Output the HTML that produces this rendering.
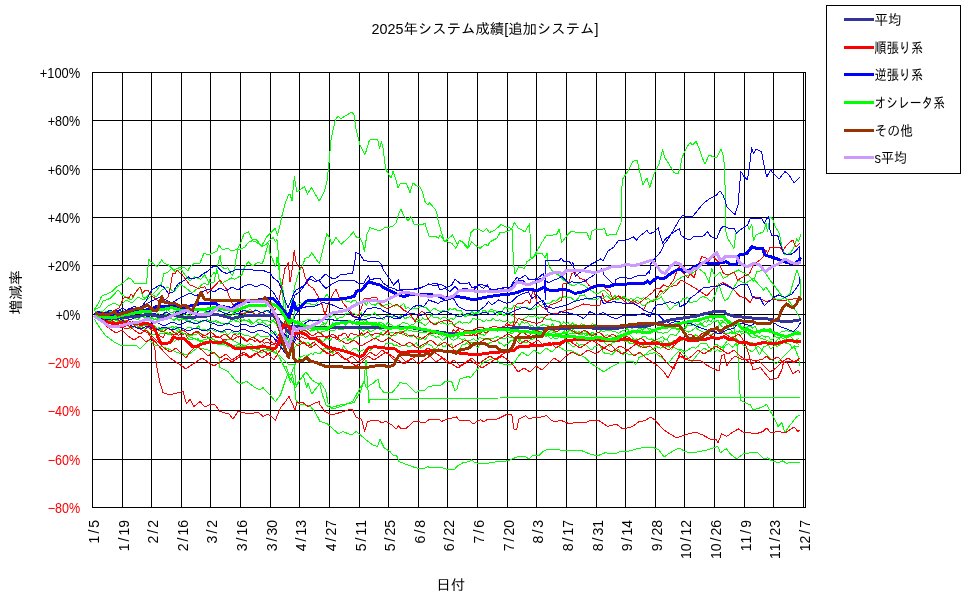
<!DOCTYPE html><html><head><meta charset="utf-8"><title>2025年システム成績[追加システム]</title>
<style>html,body{margin:0;padding:0;background:#fff}body{width:970px;height:599px;overflow:hidden;position:relative;font-family:"Liberation Sans","IPAGothic","Noto Sans CJK JP",sans-serif;color:#000}svg{position:absolute;left:0;top:0;display:block}text{font-family:"Liberation Sans","IPAGothic","Noto Sans CJK JP",sans-serif}</style></head><body>
<svg width="970" height="599" viewBox="0 0 970 599">
<rect x="0" y="0" width="970" height="599" fill="#fff"/>
<g fill="#000" shape-rendering="crispEdges">
<rect x="92" y="72" width="714" height="1"/>
<rect x="92" y="120" width="714" height="1"/>
<rect x="92" y="169" width="714" height="1"/>
<rect x="92" y="217" width="714" height="1"/>
<rect x="92" y="265" width="714" height="1"/>
<rect x="92" y="314" width="714" height="1"/>
<rect x="92" y="362" width="714" height="1"/>
<rect x="92" y="410" width="714" height="1"/>
<rect x="92" y="459" width="714" height="1"/>
<rect x="92" y="507" width="714" height="1"/>
<rect x="92" y="72" width="1" height="436"/>
<rect x="122" y="72" width="1" height="436"/>
<rect x="151" y="72" width="1" height="436"/>
<rect x="181" y="72" width="1" height="436"/>
<rect x="210" y="72" width="1" height="436"/>
<rect x="240" y="72" width="1" height="436"/>
<rect x="270" y="72" width="1" height="436"/>
<rect x="299" y="72" width="1" height="436"/>
<rect x="329" y="72" width="1" height="436"/>
<rect x="359" y="72" width="1" height="436"/>
<rect x="388" y="72" width="1" height="436"/>
<rect x="418" y="72" width="1" height="436"/>
<rect x="447" y="72" width="1" height="436"/>
<rect x="477" y="72" width="1" height="436"/>
<rect x="507" y="72" width="1" height="436"/>
<rect x="536" y="72" width="1" height="436"/>
<rect x="566" y="72" width="1" height="436"/>
<rect x="596" y="72" width="1" height="436"/>
<rect x="625" y="72" width="1" height="436"/>
<rect x="655" y="72" width="1" height="436"/>
<rect x="684" y="72" width="1" height="436"/>
<rect x="714" y="72" width="1" height="436"/>
<rect x="744" y="72" width="1" height="436"/>
<rect x="773" y="72" width="1" height="436"/>
<rect x="803" y="72" width="1" height="436"/>
<rect x="805" y="72" width="1" height="436"/>
</g>
<g fill="none" stroke-width="1" shape-rendering="crispEdges" stroke-linejoin="round">
<polyline stroke="#00ff00" points="95.0,312.2 97.2,313.3 99.4,314.8 101.6,316.8 103.8,312.9 106.0,311.8 108.2,310.8 110.4,311.2 112.6,311.6 114.8,310.1 117.0,311.6 119.2,309.9 121.4,311.9 123.6,310.8 125.8,312.0 128.0,312.9 130.2,312.5 132.4,311.5 134.6,310.6 136.8,309.6 139.0,313.2 141.2,313.7 143.4,315.9 145.6,314.8 147.8,314.1 150.0,312.2 152.2,311.9 154.4,309.6 156.6,312.5 158.8,314.0 161.0,315.7 163.2,316.7 165.4,313.3 167.6,309.2 169.8,312.1 172.0,312.9 174.2,311.5 176.4,310.8 178.6,313.2 180.8,316.1 183.0,315.6 185.2,313.6 187.4,315.0 189.6,316.2 191.8,313.2 194.0,314.7 196.2,312.9 198.4,313.5 200.6,314.5 202.8,314.3 205.0,311.7 207.2,313.2 209.4,311.1 211.6,313.3 213.8,310.3 216.0,310.9 218.2,311.2 220.4,310.9 222.6,312.2 224.8,312.9 227.0,315.8 229.2,315.1 231.4,315.8 233.6,312.6 235.8,314.2 238.0,314.8 240.2,315.8 242.4,316.5 244.6,313.1 246.8,310.5 249.0,310.0 251.2,309.9 253.4,313.2 255.6,309.7 257.8,311.0 260.0,313.3 262.2,312.7 264.4,310.5 266.6,310.1 268.8,312.2 271.0,313.7 273.2,313.2 275.4,314.3 277.6,319.5 279.8,321.1 282.0,327.1 284.2,327.2 286.4,333.2 288.6,332.6 290.8,335.1 293.0,329.6 295.2,321.9 297.4,320.9 299.6,321.8 301.8,322.2 304.0,321.5 306.2,320.5 308.4,319.6 310.6,319.5 312.8,321.1 315.0,320.6 317.2,320.6 319.4,319.6 321.6,321.0 323.8,323.3 326.0,324.2 328.2,319.3 330.4,317.0 332.6,315.5 334.8,315.6 337.0,319.4 339.2,317.7 341.4,317.4 343.6,316.8 345.8,313.7 348.0,313.0 350.2,313.4 352.4,313.3 354.6,314.0 356.8,314.2 359.0,314.6 361.2,312.7 363.4,315.9 365.6,316.9 367.8,315.6 370.0,315.3 372.2,314.5 374.4,312.5 376.6,315.6 378.8,315.5 381.0,318.0 383.2,320.1 385.4,316.7 387.6,315.3 389.8,317.1 392.0,316.5 394.2,316.0 396.4,316.2 398.6,317.7 400.8,315.7 403.0,316.7 405.2,318.9 407.4,317.3 409.6,316.8 411.8,317.7 414.0,319.0 416.2,319.7 418.4,319.2 420.6,320.8 422.8,317.9 425.0,320.0 427.2,319.3 429.4,317.5 431.6,314.7 433.8,317.8 436.0,317.5 438.2,317.7 440.4,319.4 442.6,317.1 444.8,317.7 447.0,318.2 449.2,319.6 451.4,318.2 453.6,319.8 455.8,316.8 458.0,315.9 460.2,314.4 462.4,313.0 464.6,316.5 466.8,316.1 469.0,315.3 471.2,315.2 473.4,315.0 475.6,312.2 477.8,312.3 480.0,313.6 482.2,311.9 484.4,312.7 486.6,312.8 488.8,312.0 491.0,311.0 493.2,311.7 495.4,313.5 497.6,315.1 499.8,312.6 502.0,314.0 504.2,315.6 506.4,312.7 508.6,311.8 510.8,314.4 513.0,316.2 515.2,317.0 517.4,319.1 519.6,318.9 521.8,320.0 524.0,318.4 526.2,317.7 528.4,315.9 530.6,316.6 532.8,316.3 535.0,315.8 537.2,317.6 539.4,318.3 541.6,317.4 543.8,318.1 546.0,318.9 548.2,319.9 550.4,318.9 552.6,320.8 554.8,320.3 557.0,321.5 559.2,321.1 561.4,325.2 563.6,321.8 565.8,324.1 568.0,322.3 570.2,325.7 572.4,323.0 574.6,324.9 576.8,324.6 579.0,326.4 581.2,323.9 583.4,324.3 585.6,325.9 587.8,327.6 590.0,326.3 592.2,323.6 594.4,324.8 596.6,325.1 598.8,326.6 601.0,326.7 603.2,325.7 605.4,326.6 607.6,329.7 609.8,330.2 612.0,328.9 614.2,329.8 616.4,327.1 618.6,327.0 620.8,327.9 623.0,327.9 625.2,327.5 627.4,328.4 629.6,331.9 631.8,330.8 634.0,331.0 636.2,333.3 638.4,327.8 640.6,328.3 642.8,330.2 645.0,327.4 647.2,327.4 649.4,330.2 651.6,329.6 653.8,329.4 656.0,332.3 658.2,327.2 660.4,329.3 662.6,326.4 664.8,327.4 667.0,328.2 669.2,327.8 671.4,326.9 673.6,328.0 675.8,327.9 678.0,328.4 680.2,328.8 682.4,328.2 684.6,329.6 686.8,326.7 689.0,322.5 691.2,320.2 693.4,321.4 695.6,320.1 697.8,320.8 700.0,321.8 702.2,324.5 704.4,321.4 706.6,322.2 708.8,319.7 711.0,321.7 713.2,317.7 715.4,321.4 717.6,320.3 719.8,323.6 722.0,322.8 724.2,320.8 726.4,320.8 728.6,320.6 730.8,322.4 733.0,325.1 735.2,325.3 737.4,324.7 739.6,324.7 741.8,328.2 744.0,326.0 746.2,327.8 748.4,326.4 750.6,326.0 752.8,328.4 755.0,326.3 757.2,330.7 759.4,333.4 761.6,330.5 763.8,328.6 766.0,329.2 768.2,329.3 770.4,328.8 772.6,331.4 774.8,335.1 777.0,333.1 779.2,333.4 781.4,331.7 783.6,331.6 785.8,330.6 788.0,330.9 790.2,331.5 792.4,331.1 794.6,331.8 796.8,330.7 799.0,331.9"/>
<polyline stroke="#00ff00" points="95.0,313.8 97.2,313.8 99.4,313.9 101.6,315.3 103.8,314.9 106.0,312.7 108.2,314.3 110.4,314.4 112.6,314.5 114.8,315.2 117.0,315.8 119.2,317.6 121.4,317.9 123.6,317.4 125.8,315.8 128.0,314.7 130.2,316.0 132.4,318.4 134.6,317.8 136.8,317.4 139.0,318.2 141.2,315.7 143.4,316.2 145.6,317.7 147.8,319.1 150.0,318.4 152.2,318.9 154.4,319.1 156.6,320.1 158.8,317.9 161.0,319.3 163.2,317.0 165.4,314.2 167.6,315.7 169.8,316.2 172.0,319.2 174.2,320.6 176.4,318.7 178.6,320.8 180.8,319.2 183.0,319.8 185.2,319.9 187.4,320.7 189.6,322.2 191.8,322.9 194.0,322.9 196.2,323.4 198.4,323.5 200.6,322.0 202.8,320.8 205.0,320.5 207.2,321.7 209.4,321.3 211.6,324.8 213.8,322.0 216.0,320.0 218.2,321.7 220.4,323.6 222.6,323.2 224.8,323.4 227.0,324.4 229.2,322.6 231.4,319.6 233.6,319.2 235.8,321.2 238.0,318.7 240.2,319.4 242.4,320.2 244.6,319.7 246.8,320.9 249.0,321.3 251.2,324.2 253.4,323.4 255.6,321.1 257.8,319.9 260.0,319.0 262.2,321.1 264.4,320.1 266.6,320.3 268.8,321.7 271.0,320.3 273.2,320.2 275.4,318.5 277.6,322.0 279.8,326.5 282.0,332.0 284.2,338.0 286.4,340.9 288.6,344.5 290.8,344.5 293.0,340.0 295.2,334.6 297.4,331.5 299.6,328.8 301.8,330.1 304.0,329.8 306.2,330.8 308.4,329.2 310.6,331.2 312.8,328.7 315.0,330.0 317.2,328.4 319.4,326.4 321.6,324.3 323.8,324.5 326.0,326.9 328.2,327.3 330.4,327.1 332.6,322.4 334.8,324.3 337.0,325.0 339.2,323.6 341.4,322.7 343.6,323.0 345.8,325.6 348.0,322.8 350.2,322.1 352.4,324.3 354.6,322.7 356.8,321.9 359.0,322.0 361.2,320.1 363.4,321.4 365.6,320.1 367.8,322.5 370.0,322.6 372.2,326.1 374.4,325.0 376.6,326.2 378.8,322.8 381.0,322.8 383.2,323.5 385.4,326.1 387.6,322.4 389.8,324.4 392.0,325.0 394.2,326.8 396.4,326.6 398.6,325.5 400.8,324.1 403.0,322.0 405.2,323.0 407.4,323.0 409.6,326.2 411.8,324.0 414.0,324.1 416.2,321.3 418.4,321.4 420.6,322.5 422.8,323.8 425.0,325.4 427.2,324.1 429.4,321.6 431.6,322.6 433.8,323.2 436.0,323.4 438.2,321.7 440.4,323.5 442.6,322.8 444.8,323.3 447.0,324.4 449.2,324.0 451.4,323.2 453.6,325.5 455.8,323.9 458.0,322.1 460.2,321.7 462.4,323.5 464.6,322.4 466.8,322.3 469.0,323.3 471.2,321.2 473.4,318.1 475.6,319.5 477.8,320.0 480.0,319.0 482.2,320.9 484.4,321.6 486.6,319.6 488.8,320.8 491.0,320.5 493.2,318.4 495.4,320.2 497.6,320.5 499.8,319.7 502.0,321.2 504.2,322.0 506.4,320.9 508.6,321.8 510.8,323.3 513.0,321.5 515.2,322.3 517.4,322.2 519.6,325.5 521.8,321.4 524.0,323.2 526.2,322.8 528.4,323.0 530.6,326.3 532.8,325.4 535.0,328.4 537.2,326.2 539.4,326.3 541.6,325.3 543.8,324.6 546.0,325.4 548.2,325.6 550.4,326.5 552.6,323.7 554.8,328.5 557.0,328.0 559.2,330.7 561.4,328.3 563.6,329.2 565.8,334.2 568.0,331.0 570.2,328.6 572.4,328.9 574.6,330.7 576.8,332.3 579.0,334.3 581.2,333.2 583.4,330.8 585.6,331.4 587.8,334.5 590.0,335.2 592.2,332.2 594.4,333.6 596.6,336.7 598.8,339.7 601.0,339.1 603.2,338.3 605.4,335.6 607.6,334.7 609.8,335.7 612.0,336.9 614.2,337.7 616.4,336.7 618.6,335.1 620.8,334.9 623.0,334.2 625.2,336.6 627.4,333.5 629.6,334.9 631.8,336.8 634.0,339.6 636.2,338.9 638.4,340.0 640.6,338.5 642.8,336.9 645.0,336.0 647.2,338.8 649.4,339.4 651.6,338.8 653.8,342.7 656.0,339.7 658.2,338.9 660.4,337.9 662.6,336.5 664.8,339.4 667.0,339.7 669.2,335.4 671.4,334.4 673.6,335.0 675.8,335.8 678.0,332.9 680.2,329.9 682.4,328.5 684.6,330.4 686.8,331.2 689.0,332.2 691.2,330.9 693.4,329.4 695.6,327.2 697.8,329.4 700.0,330.5 702.2,331.9 704.4,332.2 706.6,330.7 708.8,332.1 711.0,330.5 713.2,328.6 715.4,327.7 717.6,326.9 719.8,324.0 722.0,326.4 724.2,328.1 726.4,328.3 728.6,328.1 730.8,329.8 733.0,333.0 735.2,332.4 737.4,331.5 739.6,331.0 741.8,331.8 744.0,330.6 746.2,331.8 748.4,333.0 750.6,336.5 752.8,337.3 755.0,338.1 757.2,336.0 759.4,337.2 761.6,335.2 763.8,336.3 766.0,337.2 768.2,336.0 770.4,339.6 772.6,339.5 774.8,335.8 777.0,337.6 779.2,337.2 781.4,337.7 783.6,338.8 785.8,339.4 788.0,336.1 790.2,335.8 792.4,338.6 794.6,341.0 796.8,343.3 799.0,344.6"/>
<polyline stroke="#00ff00" points="95.0,313.0 97.2,315.2 99.4,317.6 101.6,316.8 103.8,315.3 106.0,316.8 108.2,318.8 110.4,321.2 112.6,319.1 114.8,318.1 117.0,321.0 119.2,322.5 121.4,325.3 123.6,326.3 125.8,325.3 128.0,324.8 130.2,329.4 132.4,327.7 134.6,326.3 136.8,325.3 139.0,327.1 141.2,328.5 143.4,328.8 145.6,329.7 147.8,331.1 150.0,332.9 152.2,334.8 154.4,334.8 156.6,331.9 158.8,334.7 161.0,332.9 163.2,333.9 165.4,332.5 167.6,334.2 169.8,334.0 172.0,335.6 174.2,341.6 176.4,339.6 178.6,340.1 180.8,337.0 183.0,337.1 185.2,338.8 187.4,338.6 189.6,339.4 191.8,339.5 194.0,337.9 196.2,339.7 198.4,338.6 200.6,342.4 202.8,340.8 205.0,342.0 207.2,341.7 209.4,343.1 211.6,341.6 213.8,343.4 216.0,342.7 218.2,344.7 220.4,344.9 222.6,344.3 224.8,342.7 227.0,344.4 229.2,344.9 231.4,347.3 233.6,345.4 235.8,346.0 238.0,346.4 240.2,346.4 242.4,346.3 244.6,346.3 246.8,345.1 249.0,343.9 251.2,344.3 253.4,346.2 255.6,348.8 257.8,349.4 260.0,350.0 262.2,350.0 264.4,349.9 266.6,349.1 268.8,349.7 271.0,351.7 273.2,349.6 275.4,348.5 277.6,355.5 279.8,358.2 282.0,362.6 284.2,366.5 286.4,366.7 288.6,373.8 290.8,375.3 293.0,369.0 295.2,364.4 297.4,361.0 299.6,357.5 301.8,356.3 304.0,355.8 306.2,356.2 308.4,355.1 310.6,353.3 312.8,354.7 315.0,352.0 317.2,353.0 319.4,354.0 321.6,352.2 323.8,348.7 326.0,348.2 328.2,349.7 330.4,350.9 332.6,353.1 334.8,350.2 337.0,350.1 339.2,351.0 341.4,350.2 343.6,346.0 345.8,348.7 348.0,352.5 350.2,352.4 352.4,349.2 354.6,348.1 356.8,348.4 359.0,352.1 361.2,351.1 363.4,349.6 365.6,351.0 367.8,349.0 370.0,351.0 372.2,347.9 374.4,346.4 376.6,347.4 378.8,349.0 381.0,348.6 383.2,347.8 385.4,344.0 387.6,343.6 389.8,343.6 392.0,343.7 394.2,345.5 396.4,345.0 398.6,346.4 400.8,346.1 403.0,345.2 405.2,345.5 407.4,346.0 409.6,347.0 411.8,345.4 414.0,344.9 416.2,342.8 418.4,346.3 420.6,348.1 422.8,346.5 425.0,345.2 427.2,343.4 429.4,344.7 431.6,345.5 433.8,349.1 436.0,348.1 438.2,345.9 440.4,342.1 442.6,346.2 444.8,346.6 447.0,344.0 449.2,345.4 451.4,343.4 453.6,350.5 455.8,350.7 458.0,350.0 460.2,348.4 462.4,344.1 464.6,344.9 466.8,342.9 469.0,345.2 471.2,342.0 473.4,342.0 475.6,345.4 477.8,347.8 480.0,344.5 482.2,342.1 484.4,344.5 486.6,345.7 488.8,343.3 491.0,342.3 493.2,341.7 495.4,340.5 497.6,340.5 499.8,343.5 502.0,344.1 504.2,346.5 506.4,344.3 508.6,342.9 510.8,340.6 513.0,340.6 515.2,338.6 517.4,336.6 519.6,339.3 521.8,341.9 524.0,342.2 526.2,343.1 528.4,341.7 530.6,339.3 532.8,339.1 535.0,338.1 537.2,336.3 539.4,334.2 541.6,333.4 543.8,335.1 546.0,336.3 548.2,335.8 550.4,338.5 552.6,337.9 554.8,338.1 557.0,339.1 559.2,336.3 561.4,333.9 563.6,337.9 565.8,338.5 568.0,342.7 570.2,344.1 572.4,346.4 574.6,347.0 576.8,342.9 579.0,345.3 581.2,344.6 583.4,344.3 585.6,344.8 587.8,347.1 590.0,348.8 592.2,350.1 594.4,346.7 596.6,346.7 598.8,344.1 601.0,347.4 603.2,352.3 605.4,353.4 607.6,353.9 609.8,353.8 612.0,354.8 614.2,352.2 616.4,350.4 618.6,349.3 620.8,352.9 623.0,354.4 625.2,353.6 627.4,353.9 629.6,354.2 631.8,354.7 634.0,354.6 636.2,354.6 638.4,353.3 640.6,353.4 642.8,355.8 645.0,354.8 647.2,352.9 649.4,350.9 651.6,349.7 653.8,348.9 656.0,346.3 658.2,347.4 660.4,348.3 662.6,347.4 664.8,347.0 667.0,346.7 669.2,346.6 671.4,349.9 673.6,346.7 675.8,348.5 678.0,349.2 680.2,349.6 682.4,350.2 684.6,351.8 686.8,350.7 689.0,349.5 691.2,347.8 693.4,347.3 695.6,348.4 697.8,346.6 700.0,344.1 702.2,343.4 704.4,343.4 706.6,343.2 708.8,347.3 711.0,348.5 713.2,348.4 715.4,351.3 717.6,349.7 719.8,351.3 722.0,351.3 724.2,347.2 726.4,344.5 728.6,343.7 730.8,345.9 733.0,347.3 735.2,343.8 737.4,345.1 739.6,343.2 741.8,342.9 744.0,343.0 746.2,343.7 748.4,342.0 750.6,342.6 752.8,342.9 755.0,346.1 757.2,350.7 759.4,354.6 761.6,351.2 763.8,346.8 766.0,346.1 768.2,344.7 770.4,348.3 772.6,347.8 774.8,345.2 777.0,346.2 779.2,345.9 781.4,342.0 783.6,341.5 785.8,341.5 788.0,341.7 790.2,341.8 792.4,340.9 794.6,341.0 796.8,339.7 799.0,338.2"/>
<polyline stroke="#00ff00" points="95.0,311.7 97.2,313.5 99.4,313.8 101.6,313.8 103.8,316.3 106.0,316.5 108.2,316.1 110.4,319.5 112.6,317.8 114.8,315.8 117.0,314.7 119.2,315.6 121.4,318.2 123.6,320.1 125.8,321.7 128.0,324.0 130.2,325.2 132.4,324.4 134.6,325.2 136.8,324.8 139.0,322.9 141.2,324.2 143.4,323.9 145.6,323.6 147.8,327.1 150.0,327.3 152.2,325.5 154.4,325.4 156.6,329.5 158.8,327.7 161.0,328.5 163.2,328.7 165.4,328.8 167.6,329.0 169.8,327.5 172.0,326.8 174.2,327.1 176.4,326.9 178.6,328.9 180.8,331.2 183.0,328.7 185.2,329.7 187.4,327.9 189.6,327.5 191.8,328.1 194.0,329.0 196.2,328.8 198.4,325.3 200.6,329.9 202.8,329.8 205.0,329.2 207.2,331.1 209.4,330.1 211.6,328.3 213.8,330.5 216.0,331.7 218.2,330.4 220.4,332.4 222.6,332.9 224.8,330.8 227.0,334.4 229.2,334.0 231.4,331.6 233.6,332.9 235.8,333.2 238.0,334.8 240.2,332.0 242.4,334.3 244.6,335.5 246.8,335.9 249.0,336.0 251.2,337.2 253.4,337.0 255.6,336.0 257.8,333.9 260.0,336.0 262.2,336.9 264.4,336.4 266.6,336.0 268.8,336.7 271.0,331.9 273.2,333.9 275.4,331.1 277.6,336.9 279.8,342.9 282.0,349.0 284.2,350.1 286.4,353.7 288.6,356.5 290.8,353.2 293.0,351.1 295.2,346.5 297.4,344.6 299.6,342.3 301.8,342.2 304.0,341.9 306.2,343.4 308.4,342.2 310.6,346.6 312.8,342.9 315.0,341.0 317.2,340.2 319.4,338.5 321.6,341.3 323.8,341.3 326.0,338.2 328.2,338.6 330.4,340.5 332.6,337.3 334.8,338.0 337.0,337.7 339.2,341.6 341.4,340.7 343.6,338.7 345.8,337.4 348.0,340.6 350.2,338.4 352.4,341.7 354.6,337.2 356.8,336.9 359.0,336.6 361.2,335.6 363.4,335.8 365.6,337.4 367.8,336.0 370.0,333.9 372.2,337.2 374.4,339.2 376.6,336.7 378.8,336.9 381.0,332.4 383.2,335.9 385.4,333.9 387.6,334.2 389.8,338.7 392.0,335.7 394.2,336.1 396.4,334.6 398.6,332.6 400.8,332.6 403.0,334.9 405.2,333.7 407.4,334.2 409.6,336.6 411.8,336.5 414.0,334.7 416.2,338.2 418.4,337.9 420.6,339.9 422.8,337.1 425.0,340.0 427.2,336.8 429.4,334.4 431.6,335.3 433.8,335.9 436.0,337.3 438.2,336.8 440.4,338.5 442.6,340.6 444.8,338.6 447.0,336.4 449.2,336.8 451.4,339.1 453.6,340.3 455.8,339.2 458.0,337.6 460.2,338.3 462.4,340.2 464.6,338.5 466.8,340.8 469.0,340.3 471.2,340.1 473.4,338.5 475.6,340.8 477.8,339.9 480.0,336.9 482.2,339.0 484.4,338.1 486.6,340.0 488.8,339.5 491.0,338.0 493.2,338.4 495.4,337.5 497.6,336.5 499.8,337.2 502.0,338.8 504.2,338.4 506.4,337.9 508.6,336.7 510.8,337.8 513.0,337.9 515.2,339.0 517.4,338.5 519.6,341.1 521.8,336.4 524.0,336.2 526.2,337.0 528.4,337.9 530.6,334.4 532.8,332.9 535.0,333.9 537.2,336.2 539.4,337.4 541.6,333.8 543.8,334.5 546.0,336.5 548.2,335.7 550.4,333.5 552.6,332.7 554.8,331.3 557.0,334.5 559.2,333.9 561.4,333.2 563.6,332.0 565.8,332.4 568.0,331.3 570.2,330.5 572.4,331.5 574.6,331.7 576.8,332.8 579.0,332.8 581.2,334.4 583.4,333.3 585.6,333.9 587.8,334.8 590.0,334.1 592.2,337.4 594.4,336.9 596.6,335.4 598.8,339.6 601.0,341.4 603.2,340.9 605.4,343.5 607.6,345.4 609.8,346.5 612.0,343.0 614.2,342.9 616.4,340.5 618.6,339.6 620.8,339.3 623.0,339.3 625.2,341.6 627.4,341.0 629.6,343.2 631.8,343.9 634.0,343.2 636.2,344.2 638.4,345.9 640.6,347.4 642.8,345.4 645.0,347.2 647.2,346.1 649.4,346.3 651.6,342.0 653.8,339.8 656.0,342.1 658.2,341.0 660.4,341.4 662.6,342.7 664.8,339.0 667.0,339.9 669.2,342.7 671.4,342.3 673.6,340.8 675.8,340.6 678.0,339.5 680.2,339.9 682.4,340.8 684.6,338.6 686.8,338.5 689.0,337.8 691.2,337.9 693.4,337.9 695.6,334.6 697.8,336.3 700.0,336.5 702.2,333.9 704.4,333.9 706.6,332.0 708.8,333.0 711.0,334.7 713.2,333.3 715.4,333.2 717.6,333.1 719.8,333.5 722.0,333.0 724.2,332.1 726.4,334.0 728.6,333.6 730.8,332.2 733.0,334.2 735.2,332.5 737.4,333.8 739.6,330.8 741.8,334.2 744.0,333.5 746.2,332.5 748.4,334.5 750.6,333.1 752.8,333.0 755.0,335.4 757.2,335.8 759.4,337.8 761.6,338.6 763.8,339.4 766.0,339.8 768.2,341.2 770.4,341.0 772.6,342.9 774.8,343.8 777.0,339.9 779.2,338.2 781.4,342.9 783.6,342.4 785.8,343.3 788.0,343.6 790.2,344.5 792.4,348.4 794.6,346.0 796.8,346.1 799.0,346.3"/>
<polyline stroke="#00ff00" points="95.0,312.9 97.2,315.0 99.4,313.4 101.6,311.4 103.8,312.9 106.0,314.3 108.2,314.8 110.4,315.4 112.6,315.0 114.8,314.4 117.0,313.9 119.2,314.4 121.4,314.5 123.6,316.3 125.8,316.9 128.0,315.1 130.2,316.6 132.4,316.6 134.6,318.0 136.8,319.3 139.0,319.0 141.2,316.0 143.4,317.4 145.6,315.6 147.8,318.4 150.0,317.3 152.2,317.4 154.4,319.9 156.6,317.0 158.8,317.7 161.0,316.7 163.2,316.9 165.4,316.8 167.6,318.5 169.8,318.3 172.0,319.1 174.2,319.9 176.4,317.5 178.6,320.0 180.8,319.5 183.0,317.5 185.2,317.7 187.4,319.7 189.6,321.0 191.8,319.7 194.0,320.0 196.2,320.4 198.4,321.7 200.6,321.0 202.8,322.0 205.0,320.3 207.2,319.7 209.4,321.0 211.6,321.9 213.8,321.5 216.0,322.1 218.2,322.0 220.4,322.7 222.6,323.6 224.8,323.4 227.0,323.7 229.2,322.4 231.4,321.5 233.6,318.9 235.8,320.9 238.0,321.6 240.2,322.6 242.4,320.2 244.6,320.6 246.8,320.7 249.0,319.2 251.2,321.7 253.4,323.5 255.6,321.4 257.8,322.3 260.0,324.4 262.2,322.0 264.4,323.3 266.6,324.8 268.8,326.0 271.0,322.7 273.2,321.2 275.4,322.5 277.6,327.2 279.8,328.2 282.0,330.7 284.2,333.1 286.4,338.5 288.6,340.8 290.8,342.2 293.0,338.8 295.2,335.8 297.4,333.7 299.6,333.1 301.8,333.6 304.0,332.9 306.2,330.3 308.4,329.6 310.6,330.8 312.8,330.6 315.0,329.8 317.2,330.0 319.4,333.9 321.6,331.8 323.8,331.2 326.0,330.8 328.2,329.6 330.4,330.7 332.6,330.8 334.8,330.3 337.0,327.7 339.2,329.5 341.4,329.9 343.6,329.2 345.8,325.7 348.0,327.0 350.2,326.4 352.4,327.3 354.6,327.5 356.8,327.3 359.0,329.5 361.2,329.6 363.4,331.1 365.6,329.3 367.8,329.3 370.0,331.3 372.2,331.1 374.4,329.8 376.6,328.9 378.8,328.8 381.0,329.5 383.2,330.8 385.4,331.0 387.6,331.8 389.8,332.5 392.0,332.0 394.2,333.2 396.4,333.2 398.6,332.2 400.8,331.7 403.0,331.6 405.2,330.7 407.4,329.6 409.6,330.7 411.8,330.7 414.0,332.0 416.2,331.4 418.4,332.0 420.6,332.4 422.8,332.0 425.0,332.6 427.2,331.9 429.4,332.0 431.6,333.6 433.8,334.0 436.0,333.9 438.2,332.9 440.4,334.3 442.6,336.7 444.8,333.0 447.0,335.0 449.2,335.1 451.4,336.3 453.6,337.2 455.8,335.0 458.0,337.3 460.2,335.7 462.4,335.1 464.6,335.7 466.8,335.1 469.0,335.1 471.2,334.1 473.4,332.8 475.6,333.3 477.8,332.2 480.0,334.5 482.2,334.3 484.4,335.6 486.6,332.9 488.8,330.4 491.0,328.6 493.2,329.9 495.4,329.5 497.6,331.2 499.8,329.8 502.0,329.2 504.2,330.8 506.4,330.9 508.6,332.2 510.8,333.1 513.0,333.0 515.2,331.0 517.4,330.3 519.6,333.7 521.8,332.5 524.0,332.5 526.2,332.2 528.4,331.9 530.6,331.5 532.8,330.7 535.0,330.4 537.2,328.3 539.4,331.7 541.6,331.4 543.8,329.9 546.0,331.4 548.2,332.4 550.4,330.4 552.6,330.5 554.8,333.1 557.0,333.4 559.2,333.5 561.4,334.2 563.6,333.3 565.8,332.6 568.0,334.5 570.2,333.4 572.4,333.0 574.6,333.7 576.8,333.3 579.0,331.6 581.2,334.5 583.4,333.7 585.6,335.6 587.8,335.1 590.0,333.1 592.2,335.0 594.4,334.0 596.6,332.6 598.8,332.9 601.0,330.3 603.2,331.7 605.4,330.9 607.6,330.9 609.8,329.9 612.0,331.2 614.2,331.3 616.4,332.1 618.6,333.1 620.8,331.8 623.0,330.6 625.2,330.1 627.4,328.3 629.6,327.5 631.8,328.5 634.0,326.9 636.2,324.6 638.4,325.5 640.6,327.1 642.8,329.6 645.0,328.4 647.2,327.6 649.4,328.6 651.6,329.4 653.8,330.8 656.0,331.1 658.2,332.5 660.4,332.4 662.6,333.4 664.8,332.9 667.0,332.7 669.2,331.1 671.4,328.7 673.6,328.9 675.8,328.7 678.0,329.8 680.2,330.0 682.4,328.7 684.6,327.8 686.8,325.9 689.0,325.9 691.2,326.0 693.4,325.0 695.6,323.5 697.8,325.4 700.0,323.5 702.2,325.7 704.4,326.2 706.6,326.8 708.8,324.1 711.0,324.3 713.2,321.9 715.4,321.7 717.6,320.1 719.8,320.0 722.0,320.5 724.2,322.7 726.4,324.1 728.6,323.2 730.8,322.8 733.0,321.9 736.7,342.5 738.4,360.0 739.0,380.0 740.4,400.0 745.4,402.7 750.5,405.0 753.0,410.0 760.5,407.7 766.7,404.4 770.5,411.5 774.0,417.7 778.0,426.5 781.8,422.7 785.0,432.8 789.0,426.5 793.0,421.5 796.8,416.5 800.0,415.0"/>
<polyline stroke="#ff0000" points="95.0,315.2 97.2,317.3 99.4,315.3 101.6,314.3 103.8,316.0 106.0,319.3 108.2,319.2 110.4,316.9 112.6,316.5 114.8,317.7 117.0,320.1 119.2,320.1 121.4,319.9 123.6,320.1 125.8,321.1 128.0,320.5 130.2,321.5 132.4,323.0 134.6,326.2 136.8,325.7 139.0,327.4 141.2,325.5 143.4,327.7 145.6,328.2 147.8,327.7 150.0,328.5 152.2,330.8 154.4,330.4 156.6,332.7 158.8,335.0 161.0,336.6 163.2,337.4 165.4,333.4 167.6,333.8 169.8,332.5 172.0,334.5 174.2,334.3 176.4,334.5 178.6,335.1 180.8,333.9 183.0,334.4 185.2,333.5 187.4,337.5 189.6,335.8 191.8,335.7 194.0,333.0 196.2,332.0 198.4,332.6 200.6,335.6 202.8,337.3 205.0,337.6 207.2,336.4 209.4,339.7 211.6,337.1 213.8,336.1 216.0,337.7 218.2,336.4 220.4,337.7 222.6,339.7 224.8,339.2 227.0,339.8 229.2,339.6 231.4,338.5 233.6,334.1 235.8,334.8 238.0,337.2 240.2,336.1 242.4,337.1 244.6,339.0 246.8,341.9 249.0,339.2 251.2,339.2 253.4,340.4 255.6,341.6 257.8,339.3 260.0,343.2 262.2,341.1 264.4,343.1 266.6,342.2 268.8,342.7 271.0,345.0 273.2,344.9 275.4,343.2 277.6,337.0 279.8,332.4 282.0,326.9 284.2,328.2 286.4,322.4 288.6,318.6 290.8,328.7 293.0,336.1 295.2,335.9 297.4,338.2 299.6,337.5 301.8,336.9 304.0,338.0 306.2,338.4 308.4,337.2 310.6,339.8 312.8,339.7 315.0,338.7 317.2,336.0 319.4,336.5 321.6,336.0 323.8,336.0 326.0,337.4 328.2,335.9 330.4,336.3 332.6,337.3 334.8,337.1 337.0,340.0 339.2,335.1 341.4,335.1 343.6,333.2 345.8,333.8 348.0,338.2 350.2,334.0 352.4,333.7 354.6,335.0 356.8,334.8 359.0,335.9 361.2,332.6 363.4,335.0 365.6,333.3 367.8,331.9 370.0,334.1 372.2,335.2 374.4,333.9 376.6,333.1 378.8,333.7 381.0,334.4 383.2,334.6 385.4,333.4 387.6,330.7 389.8,335.0 392.0,335.7 394.2,333.8 396.4,332.3 398.6,332.9 400.8,333.7 403.0,331.3 405.2,335.5 407.4,336.2 409.6,335.4 411.8,335.9 414.0,336.0 416.2,337.3 418.4,336.5 420.6,337.8 422.8,338.9 425.0,336.5 427.2,334.9 429.4,333.3 431.6,333.4 433.8,332.6 436.0,333.3 438.2,334.1 440.4,334.9 442.6,332.6 444.8,334.8 447.0,333.7 449.2,333.4 451.4,332.6 453.6,329.7 455.8,331.6 458.0,329.4 460.2,332.8 462.4,332.8 464.6,335.3 466.8,335.1 469.0,335.0 471.2,336.1 473.4,334.3 475.6,335.8 477.8,333.9 480.0,333.4 482.2,331.4 484.4,332.1 486.6,332.6 488.8,330.9 491.0,328.5 493.2,329.1 495.4,330.0 497.6,329.5 499.8,327.7 502.0,327.0 504.2,327.2 506.4,323.5 508.6,324.5 513.5,326.8 518.5,318.4 523.5,320.0 530.0,321.7 536.8,323.4 541.8,321.7 545.0,316.7 550.0,314.0 556.9,313.4 561.9,311.7 566.9,310.0 571.9,309.0 577.0,306.7 583.5,304.0 590.0,305.0 600.0,305.0 602.5,293.4 604.2,300.0 606.7,301.8 613.4,299.0 618.4,296.0 623.4,298.0 628.4,300.0 636.8,305.0 643.5,310.0 646.8,303.4 650.0,301.8 653.5,301.8 656.8,296.8 661.0,290.0 663.5,293.4 670.0,286.8 676.8,285.0 681.0,280.0 686.9,283.4 690.0,285.0 698.0,290.0 706.7,295.9 715.0,286.7 723.4,282.5 731.7,287.5 740.0,296.7 745.0,297.5 750.0,302.5 753.4,296.7 760.0,298.4 766.8,301.7 773.5,299.0 780.0,301.0 786.8,300.0 793.5,299.0 800.0,298.4"/>
<polyline stroke="#00ff00" points="94.5,310.6 95.0,308.5 98.3,303.5 101.7,296.0 106.7,294.0 111.7,291.8 116.7,286.8 122.5,283.5 128.4,278.0 130.9,278.8 134.0,283.0 140.0,283.5 146.0,284.0 147.6,275.0 148.4,259.0 151.0,261.8 157.6,266.8 161.5,260.0 164.0,263.0 168.5,265.0 173.5,270.0 178.5,268.0 181.8,267.6 185.0,268.0 187.7,271.0 190.0,266.8 193.5,264.0 200.0,263.0 202.0,258.0 204.0,253.0 208.5,255.0 213.5,252.6 217.0,251.0 219.0,245.0 222.7,250.0 227.0,248.0 232.0,251.0 237.7,249.0 241.0,241.7 244.0,234.0 248.4,231.8 251.7,239.0 256.7,240.0 261.7,246.0 266.7,236.8 270.9,232.6 275.0,228.4 277.6,235.0 280.0,225.0 281.7,216.7 285.0,204.0 288.4,195.0 290.0,194.0 292.0,200.9 294.3,176.7 296.8,191.7 300.0,190.0 304.3,186.7 307.6,194.0 311.5,187.5 315.0,194.0 319.3,200.9 324.3,191.7 326.8,182.5 328.8,165.0 331.0,140.0 335.0,121.0 338.0,116.0 341.0,119.0 345.0,116.0 352.0,112.0 354.0,115.0 356.0,129.0 360.0,145.0 364.6,154.5 366.0,151.5 369.0,141.5 371.0,139.0 377.6,139.0 379.6,149.0 381.4,141.5 383.0,147.7 385.7,169.0 389.0,175.0 391.0,177.8 393.0,171.5 396.0,180.0 398.0,187.8 400.0,184.0 406.5,183.5 410.0,192.8 413.0,182.8 416.5,185.8 420.0,187.0 422.8,192.8 425.0,201.6 427.8,205.0 429.5,202.8 434.0,207.8 436.5,211.6 438.4,221.7 441.8,233.4 444.3,241.7 447.6,239.0 452.6,235.0 457.6,245.0 459.3,240.0 463.5,242.6 467.6,247.6 471.0,232.6 474.3,229.0 478.5,229.0 483.5,231.7 486.8,228.4 489.3,232.6 495.0,230.0 501.0,224.7 506.9,227.5 512.0,228.4 514.4,222.5 518.5,228.4 525.0,231.7 529.4,224.0 530.0,233.4 531.0,258.4 533.4,256.8 538.4,248.4 543.4,240.0 546.7,235.0 553.4,235.0 556.7,234.0 559.2,229.0 561.7,242.6 566.7,236.0 571.7,231.0 578.4,233.0 586.8,232.6 590.0,240.0 591.8,231.0 596.8,229.0 601.8,230.0 604.3,228.0 606.8,236.0 611.8,234.0 616.0,235.0 618.5,228.4 621.0,223.4 621.4,192.8 622.6,179.0 627.6,171.5 632.6,161.5 637.0,160.0 640.0,172.8 643.0,185.0 647.0,177.8 649.7,187.8 654.0,174.0 659.0,164.0 662.7,149.7 664.7,157.7 669.0,164.0 674.0,172.8 677.8,174.0 680.0,169.0 682.0,157.7 686.5,147.7 690.0,142.7 692.8,145.0 696.0,141.4 699.0,147.7 702.8,159.0 705.0,164.0 709.0,155.0 712.8,156.5 716.6,157.7 721.0,149.0 723.6,156.5 724.9,175.0 725.4,216.7 725.9,231.7 727.6,238.4 734.0,248.4 736.0,232.6 738.4,231.0 747.6,225.0 749.3,230.0 751.8,224.0 753.4,241.0 756.0,235.0 763.5,231.7 766.0,223.4 767.6,231.7 770.0,217.5 772.6,218.4 775.0,226.0 779.3,233.4 781.8,246.7 785.0,255.0 790.0,253.4 793.5,248.4 796.8,238.4 798.5,241.7 801.0,234.0"/>
<polyline stroke="#00ff00" points="94.5,310.6 96.7,308.5 100.0,307.0 103.0,301.0 110.0,298.5 115.0,293.5 118.0,290.0 122.5,295.0 126.7,297.6 131.7,300.0 135.0,293.5 140.0,286.8 143.0,296.8 147.0,300.0 152.0,295.0 157.0,290.0 161.8,283.5 163.5,274.0 168.5,271.8 171.8,268.0 175.0,271.8 181.0,269.0 185.0,275.0 190.0,281.0 194.5,277.0 201.0,279.3 204.5,274.6 206.3,278.0 209.2,282.8 213.9,282.2 217.4,266.4 218.6,261.7 220.3,255.3 221.5,266.4 224.4,268.7 227.9,267.6 230.2,273.4 232.6,275.7 234.9,267.6 236.0,259.4 237.8,250.0 240.7,248.9 244.8,247.1 248.9,241.9 252.4,240.7 257.0,242.5 261.8,246.5 266.4,244.2 270.0,240.0 273.5,237.2 275.2,241.9 277.0,239.5 278.0,250.0 279.3,266.4 280.0,278.0 283.0,290.0 286.0,310.0 289.0,322.0 292.0,300.0 295.0,285.0 299.0,272.0 303.4,263.5 305.0,258.5 309.3,256.8 311.8,252.6 315.0,257.6 319.3,263.5 323.5,246.8 326.8,233.4 329.3,237.6 331.8,244.3 336.0,237.6 341.0,244.3 346.8,239.3 353.5,231.8 356.0,236.8 360.2,238.4 362.7,243.5 364.4,251.8 366.9,234.3 370.0,227.6 375.0,229.3 379.4,231.0 385.0,227.6 392.0,226.8 396.0,223.4 398.3,215.0 400.9,209.0 404.0,216.0 408.4,221.0 410.4,216.0 414.2,224.0 420.9,225.0 425.0,223.4 429.0,236.0 435.0,236.0 438.4,238.4 440.0,235.0 445.0,241.0 451.8,243.4 456.0,248.4 459.3,240.0 463.5,243.4 467.6,249.0 471.8,241.7 475.0,245.0 480.0,248.4 485.0,244.0 487.7,246.0 490.0,241.7 496.8,238.4 500.0,232.6 506.9,231.7 512.0,229.0 513.5,263.4 514.9,274.0 518.5,266.8 524.4,268.4 526.9,261.8 532.0,258.4 537.0,253.4 542.0,253.4 545.0,257.6 547.0,253.4 548.4,265.0 551.7,270.0 555.0,273.5 558.4,275.0 563.4,280.0 568.4,283.5 573.4,286.0 578.4,283.5 583.4,285.0 590.0,290.0 597.0,294.0 604.0,290.0 610.0,296.0 617.0,300.0 624.0,296.0 630.0,303.0 637.0,300.0 643.0,306.0 650.0,302.0 657.0,298.0 664.0,291.0 670.0,287.0 677.0,280.0 684.0,276.0 690.0,275.0 698.4,268.4 705.0,273.5 709.0,282.6 711.7,268.4 715.0,276.8 720.0,271.8 723.4,278.5 731.7,273.5 738.4,270.0 745.0,273.5 750.0,276.8 753.4,281.8 756.8,271.8 763.5,270.0 770.0,280.0 776.0,288.0 782.0,296.0 788.0,300.0 794.0,308.0 800.0,318.0"/>
<polyline stroke="#00ff00" points="94.5,312.1 97.0,311.0 102.0,312.0 108.0,306.0 114.0,303.0 120.0,306.0 126.0,300.0 132.0,303.0 138.0,297.0 144.0,300.0 150.0,293.0 156.0,297.0 162.0,290.0 168.0,287.0 174.0,292.0 180.0,284.0 186.0,288.0 192.0,293.0 198.0,288.0 204.0,283.0 208.0,285.0 210.4,278.0 213.9,272.2 215.6,274.6 217.4,270.0 218.6,278.0 221.0,284.0 226.0,281.0 231.4,278.0 234.9,279.3 238.4,277.0 242.0,274.6 244.3,267.6 248.3,261.7 252.4,265.8 258.3,262.3 261.8,264.0 264.0,259.4 267.0,247.7 268.8,243.0 270.0,253.6 273.5,261.7 275.8,266.4 277.0,257.0 278.7,266.4 280.0,280.0 283.0,300.0 286.0,330.0 289.0,345.0 292.0,325.0 296.0,305.0 298.2,305.0 300.4,302.7 302.6,304.2 304.8,303.9 307.0,303.7 309.2,303.1 311.4,304.6 313.6,304.3 315.8,304.4 318.0,302.0 320.2,300.2 322.4,298.2 324.6,298.0 326.8,294.1 329.0,298.1 331.2,298.3 333.4,298.7 335.6,300.2 337.8,299.3 340.0,299.9 342.2,301.1 344.4,298.4 346.6,302.0 348.8,301.7 351.0,302.4 353.2,300.5 355.4,300.1 357.6,303.6 359.8,302.2 362.0,301.8 364.2,302.9 366.4,305.1 368.6,300.6 370.8,304.1 373.0,304.3 375.2,305.4 377.4,303.3 379.6,304.2 381.8,306.8 384.0,305.7 386.2,304.4 388.4,304.1 390.6,303.9 392.8,305.9 395.0,306.1 397.2,305.4 399.4,307.0 401.6,305.1 403.8,303.7 406.0,308.8 408.2,307.1 410.4,309.7 412.6,308.6 414.8,307.9 417.0,308.8 419.2,307.2 421.4,306.5 423.6,307.2 425.8,307.4 428.0,309.3 430.2,312.2 432.4,309.3 434.6,308.2 436.8,310.1 439.0,311.0 441.2,312.4 443.4,310.3 445.6,311.3 447.8,310.9 450.0,308.4 452.2,310.1 454.4,308.1 456.6,310.3 458.8,310.0 461.0,310.3 463.2,314.0 465.4,315.1 467.6,314.2 469.8,313.7 472.0,311.7 474.2,313.6 476.4,313.9 478.6,311.8 480.8,309.4 483.0,310.4 485.2,310.7 487.4,312.3 489.6,310.3 491.8,309.4 494.0,310.8 496.2,311.0 498.4,312.3 500.6,313.3 502.8,310.7 505.0,307.0 507.2,308.5 509.4,308.2 511.6,309.3 513.8,305.4 516.0,306.8 518.2,307.6 520.4,306.9 522.6,307.9 524.8,307.6 527.0,307.4 529.2,308.6 531.4,309.1 533.6,309.0 535.8,307.5 538.0,306.1 540.2,305.8 542.4,305.0 544.6,302.9 546.8,303.2 549.0,304.0 551.2,302.3 553.4,300.1 555.6,301.2 557.8,299.7 560.0,297.5 562.2,298.0 564.4,296.3 566.6,297.8 568.8,297.2 571.0,297.7 573.2,299.7 575.4,300.6 577.6,299.3 579.8,295.3 582.0,295.7 584.2,294.8 586.4,297.4 588.6,299.8 590.8,299.8 593.0,299.6 595.2,299.3 597.4,299.3 599.6,297.7 601.8,298.8 604.0,297.6 606.2,295.8 608.4,296.6 610.6,299.3 612.8,298.2 615.0,295.3 617.2,298.2 619.4,298.3 621.6,298.8 623.8,297.6 626.0,298.4 628.2,300.6 630.4,298.4 632.6,299.2 634.8,299.2 637.0,297.4 639.2,298.0 641.4,299.1 643.6,297.7 645.8,300.0 648.0,297.9 650.2,300.3 652.4,300.9 654.6,300.8 656.8,299.3 659.0,298.6 661.2,296.9 663.4,300.5 665.6,303.1 667.8,306.4 670.0,309.6 672.2,307.8 674.4,305.4 676.6,305.4 678.8,303.2 681.0,301.4 683.2,298.0 685.4,298.9 687.6,297.1 689.8,302.5 692.0,302.2 694.2,301.9 696.4,301.4 698.6,299.5 700.8,297.3 703.0,296.8 705.2,297.1 707.4,298.1 709.6,300.4 711.8,301.3 714.0,297.2 716.2,291.6 718.4,283.2 720.6,290.0 722.8,296.7 725.0,300.4 727.2,299.7 729.4,296.4 734.0,287.0 738.4,280.0 745.0,283.5 753.4,278.5 760.0,286.0 763.5,290.0 766.0,286.8 773.5,298.5 780.0,300.0 783.5,298.5 790.0,293.5 796.8,270.0 800.0,278.5 801.0,300.0"/>
<polyline stroke="#00ff00" points="94.5,318.7 96.0,322.0 100.0,328.0 105.0,335.0 110.0,339.0 115.0,342.6 122.6,346.0 136.0,345.0 140.0,348.8 149.0,340.0 155.0,345.0 165.0,347.6 177.7,352.6 187.7,355.0 197.8,347.6 207.8,350.0 215.0,353.8 219.0,357.6 220.0,367.6 227.8,371.4 235.0,380.0 240.0,384.0 246.6,381.4 255.0,387.7 260.0,390.0 263.0,387.7 270.0,395.0 275.5,401.5 280.5,395.0 285.5,380.0 288.0,374.0 290.5,382.7 292.5,375.0 294.0,382.7 296.0,400.0 299.0,404.0 305.5,405.0 310.5,406.5 315.5,412.8 320.0,421.4 327.5,424.0 338.8,434.0 342.6,431.4 351.3,435.0 356.3,431.4 365.0,439.0 372.6,445.0 377.6,446.5 380.0,439.0 384.0,447.7 390.0,451.5 392.7,455.0 396.4,455.0 399.0,461.5 407.7,465.0 416.5,468.0 425.0,468.0 427.8,466.5 430.0,468.0 442.8,467.8 447.8,469.8 455.0,469.0 456.6,466.5 463.0,462.8 469.0,461.5 471.6,460.0 475.4,462.8 483.0,464.0 495.4,462.0 508.0,460.8 518.0,456.5 525.5,456.5 529.0,459.0 533.0,455.0 539.0,455.7 543.0,451.5 548.0,449.0 560.0,450.0 570.0,450.0 580.0,450.0 590.0,454.0 597.6,455.8 605.0,452.8 615.0,454.0 620.0,451.5 627.6,451.5 636.4,449.0 645.0,447.0 654.0,447.8 659.0,450.0 664.0,457.0 670.0,452.8 679.0,448.0 685.0,451.5 690.0,453.0 700.0,451.5 707.8,449.8 714.0,447.8 717.9,446.5 720.4,452.8 724.0,450.0 726.6,449.0 730.4,454.0 736.7,459.0 743.0,454.0 750.5,452.8 758.0,453.0 764.0,459.0 768.0,457.8 770.5,460.0 778.0,462.8 783.0,460.8 786.8,463.6 790.6,462.0 800.0,462.0"/>
<polyline stroke="#00ff00" points="94.5,316.3 100.0,318.0 110.0,322.0 120.0,320.0 130.0,324.0 140.0,322.0 150.0,326.0 160.0,330.0 170.0,327.0 180.0,332.0 190.0,336.0 200.0,333.0 210.0,338.0 220.0,342.0 230.0,339.0 240.0,344.0 250.0,348.0 260.0,345.0 270.0,350.0 276.7,352.6 283.0,365.0 288.0,375.0 293.0,382.7 295.5,387.7 303.0,375.0 306.8,387.7 308.0,382.7 311.8,394.0 315.5,389.0 320.5,382.7 325.6,390.0 328.0,402.7 331.0,407.6 340.0,405.0 354.0,402.6 360.0,392.6 364.0,381.0 366.0,360.0 367.6,385.0 369.0,402.6 370.0,399.6 400.0,399.0 450.0,398.5 500.0,398.0 560.0,397.6 650.0,397.3 800.0,397.0"/>
<polyline stroke="#00ff00" points="94.5,315.7 100.0,317.0 110.0,321.0 120.0,318.0 130.0,323.0 140.0,327.0 150.0,324.0 160.0,330.0 170.0,334.0 180.0,331.0 190.0,337.0 200.0,341.0 210.0,338.0 220.0,343.0 230.0,347.0 240.0,344.0 250.0,349.0 260.0,353.0 270.0,350.0 280.0,356.0 288.0,364.0 294.0,364.0 296.0,385.0 300.0,380.0 306.0,372.0 312.0,380.0 320.0,385.0 322.5,395.0 326.0,405.0 332.5,409.0 345.0,405.0 352.6,401.4 357.6,392.6 364.0,381.3 366.4,387.6 374.0,382.6 378.0,378.8 380.0,387.6 384.0,392.6 392.7,392.0 396.4,387.6 400.0,382.6 406.5,383.8 411.5,388.8 415.7,393.0 419.0,390.6 425.0,390.0 429.0,386.3 441.6,385.0 445.0,381.3 451.6,381.3 455.0,391.3 457.0,388.8 460.0,378.8 469.0,376.3 470.4,378.0 476.6,370.0 483.0,362.5 493.5,358.4 496.8,360.0 499.3,363.4 510.0,365.0 514.3,362.6 516.8,358.4 522.0,352.0 528.0,356.0 534.0,350.0 540.0,354.0 546.0,348.0 552.0,352.0 558.0,346.0 564.0,350.0 570.0,350.0 585.0,357.6 590.0,362.6 597.6,367.6 603.8,372.0 610.0,367.6 620.0,362.6 632.7,361.0 635.7,365.0 639.0,357.6 645.0,355.0 655.0,352.6 662.0,358.0 668.0,364.0 674.0,356.0 680.0,350.0 686.0,356.0 692.0,362.0 698.0,354.0 704.0,348.0 710.0,352.0 716.0,344.0 722.0,348.0 728.0,340.0 734.0,336.0 740.0,342.0 746.0,348.0 752.0,352.0 758.0,346.0 764.0,352.0 770.0,358.0 776.0,364.0 782.0,358.0 788.0,352.0 794.0,346.0 798.0,356.0 800.0,366.0"/>
<polyline stroke="#ff0000" points="94.5,316.3 97.0,318.0 103.0,323.0 110.0,327.0 118.0,325.0 126.0,329.0 134.0,326.0 142.0,330.0 148.0,333.0 152.7,340.0 155.0,350.0 156.4,365.0 160.0,382.7 163.0,392.7 170.0,395.0 177.7,392.7 183.0,391.5 186.5,404.0 190.0,399.0 194.0,406.5 200.0,401.5 205.0,407.0 210.0,404.7 215.0,404.7 220.0,411.5 229.0,414.0 233.0,419.0 238.0,411.5 250.0,414.0 258.0,412.0 263.0,416.5 268.0,414.0 275.5,420.0 280.5,407.7 285.5,401.5 289.0,396.5 292.5,404.0 295.0,410.0 296.8,402.7 303.0,402.7 308.0,406.5 313.0,404.0 319.0,401.5 320.0,405.0 325.0,411.4 331.3,415.0 340.0,412.6 347.6,410.0 352.6,409.6 356.3,417.6 361.4,419.0 364.6,431.4 367.6,421.4 377.6,420.0 381.4,422.6 386.4,421.4 392.7,425.7 396.4,429.0 398.0,425.7 401.5,429.0 406.5,428.0 414.0,421.4 425.0,422.6 430.0,419.0 439.0,419.0 441.6,421.4 447.8,419.0 456.6,417.0 459.0,420.0 469.0,420.0 473.0,424.0 480.4,419.6 484.0,422.0 488.0,419.0 495.4,420.0 505.5,415.0 511.7,414.4 514.0,429.0 516.7,429.0 519.0,419.0 525.5,415.6 529.0,419.0 533.0,417.6 538.0,417.6 546.8,415.6 550.6,420.0 555.6,422.0 560.0,420.0 570.0,424.0 576.0,422.0 585.0,423.0 591.0,420.0 599.0,420.7 607.6,426.5 616.4,424.0 622.6,429.0 632.7,426.5 639.0,421.5 645.0,420.7 650.7,417.0 655.0,420.0 662.7,429.0 670.0,434.0 676.5,437.8 685.0,435.0 695.0,432.0 702.8,435.0 710.0,439.0 716.6,440.0 717.9,442.8 721.6,434.0 726.6,436.5 733.0,432.0 738.4,429.0 743.0,432.0 750.5,432.8 755.5,434.0 763.0,431.5 766.7,428.0 770.5,432.8 778.0,431.5 785.5,432.8 794.0,427.0 798.0,431.5 800.0,430.0"/>
<polyline stroke="#ff0000" points="94.5,316.3 98.0,318.0 104.0,322.0 110.0,319.0 116.0,324.0 122.0,328.0 128.0,325.0 134.0,330.0 140.0,334.0 146.0,330.0 152.0,336.0 158.0,342.0 164.0,348.0 170.0,352.0 176.0,348.0 182.0,354.0 186.0,358.0 190.0,352.0 196.0,346.0 202.0,350.0 208.0,356.0 214.0,352.0 220.0,358.0 226.0,354.0 232.0,360.0 238.0,356.0 244.0,352.0 250.0,357.0 256.0,353.0 262.0,358.0 268.0,354.0 274.0,360.0 280.0,350.0 284.0,335.0 288.0,326.0 292.0,340.0 298.0,346.0 304.0,342.0 310.0,348.0 316.0,344.0 322.0,350.0 328.0,354.0 334.0,350.0 340.0,356.0 346.0,360.0 352.0,356.0 358.0,362.0 364.0,358.0 370.0,352.0 376.0,356.0 382.0,350.0 388.0,354.0 394.0,360.0 400.0,356.0 406.0,362.0 412.0,358.0 418.0,364.0 424.0,360.0 430.0,356.0 436.0,362.0 442.0,358.0 448.0,364.0 454.0,360.0 460.0,366.0 466.0,362.0 472.0,358.0 478.0,364.0 484.0,360.0 490.0,356.0 496.0,360.0 502.0,356.0 508.0,360.0 514.0,366.0 518.0,372.0 524.0,368.0 530.0,372.0 536.0,366.0 542.0,370.0 548.0,364.0 554.0,358.0 560.0,362.0 566.0,356.0 572.0,352.0 580.0,356.0 588.0,350.0 596.0,354.0 604.0,348.0 612.0,352.0 620.0,346.0 628.0,350.0 636.0,344.0 644.0,348.0 650.0,346.0 655.0,351.0 660.0,354.0 667.7,364.0 674.0,369.0 676.5,362.6 680.0,352.6 684.0,357.6 690.0,361.0 700.0,360.0 706.6,365.0 714.0,369.0 719.0,371.0 721.6,356.0 724.0,354.0 726.6,366.0 731.7,359.0 735.0,356.0 743.0,360.0 750.5,359.6 755.5,361.0 763.0,359.0 766.7,356.0 770.5,360.0 778.0,357.0 783.0,362.6 788.0,361.0 794.0,362.6 799.0,360.0"/>
<polyline stroke="#ff0000" points="94.5,315.1 99.0,316.0 106.0,320.0 113.0,317.0 120.0,321.0 127.0,325.0 134.0,321.0 141.0,326.0 148.0,322.0 155.0,328.0 162.0,332.0 169.0,328.0 176.0,334.0 183.0,330.0 190.0,335.0 197.0,331.0 204.0,336.0 211.0,332.0 218.0,338.0 225.0,334.0 232.0,340.0 239.0,336.0 246.0,341.0 253.0,337.0 260.0,342.0 267.0,338.0 274.0,344.0 280.0,338.0 285.0,322.0 289.0,312.0 293.0,328.0 298.0,334.0 305.0,330.0 312.0,336.0 319.0,332.0 326.0,338.0 333.0,334.0 340.0,340.0 347.0,344.0 354.0,340.0 361.0,346.0 368.0,342.0 375.0,338.0 382.0,342.0 389.0,338.0 396.0,342.0 403.0,346.0 410.0,342.0 417.0,348.0 424.0,344.0 431.0,340.0 438.0,346.0 445.0,342.0 452.0,348.0 459.0,344.0 466.0,340.0 473.0,346.0 480.0,342.0 487.0,338.0 494.0,342.0 501.0,338.0 508.0,334.0 515.0,338.0 522.0,332.0 529.0,336.0 536.0,330.0 543.0,334.0 550.0,328.0 557.0,332.0 564.0,326.0 571.0,330.0 578.0,334.0 585.0,330.0 592.0,336.0 599.0,332.0 606.0,338.0 613.0,334.0 620.0,340.0 627.0,336.0 634.0,342.0 641.0,338.0 648.0,344.0 655.0,340.0 662.0,346.0 669.0,350.0 676.0,344.0 683.0,338.0 690.0,334.0 697.0,338.0 704.0,332.0 711.0,336.0 718.0,330.0 725.0,334.0 732.0,338.0 739.0,334.0 745.0,342.5 749.0,355.0 753.0,370.0 760.5,367.6 765.5,374.0 770.5,380.0 778.0,377.6 781.8,370.0 784.0,360.0 788.0,364.0 793.0,374.0 798.0,370.0 800.0,372.6"/>
<polyline stroke="#ff0000" points="94.5,313.3 95.0,313.0 100.0,314.0 105.0,312.0 110.0,313.0 115.0,310.0 119.0,308.0 123.4,298.5 126.0,296.8 128.4,298.5 131.0,294.0 133.0,296.5 136.0,291.8 140.0,286.8 142.6,293.5 145.0,290.0 147.6,290.0 150.0,293.5 153.0,297.0 157.0,300.0 161.0,303.0 165.0,300.0 168.5,296.8 171.0,283.5 172.6,273.4 175.0,274.0 176.8,270.0 179.3,272.6 181.8,274.0 186.0,280.0 190.0,285.0 194.0,286.5 198.5,288.5 205.0,286.8 207.7,293.5 213.5,286.8 216.9,283.5 220.0,280.0 223.5,285.0 227.0,290.0 229.4,296.8 232.0,303.0 236.0,309.0 240.0,313.0 244.0,314.0 250.0,311.0 256.0,315.0 262.0,312.0 268.0,316.0 274.0,313.0 279.0,300.0 282.0,285.0 285.0,268.5 288.4,262.6 290.0,281.7 291.7,273.4 292.5,265.0 294.2,250.9 295.8,261.7 298.3,266.7 302.5,267.5 305.0,276.7 308.4,285.0 313.4,288.4 318.4,296.7 321.7,303.4 325.0,315.0 328.4,303.4 333.4,293.4 336.0,289.0 339.0,296.7 343.4,303.4 347.6,308.4 351.8,313.4 354.3,317.6 358.5,315.0 361.8,306.7 364.3,298.4 368.5,299.0 371.8,297.6 376.8,297.6 380.0,303.4 383.5,306.7 386.8,308.4 391.8,306.7 396.8,304.0 400.0,306.7 403.5,310.0 408.5,312.6 411.9,316.7 415.0,321.7 418.5,315.0 421.9,311.0 425.0,313.4 430.0,321.7 435.0,325.0 440.0,321.8 446.7,320.0 451.7,321.8 455.0,326.8 460.0,328.5 466.7,331.0 473.4,330.0 480.0,327.0 487.0,329.0 494.0,326.0 500.0,328.0 507.0,325.0 513.5,325.0 514.3,320.0 515.0,306.7 516.8,304.0 521.8,303.4 526.8,300.0 530.0,303.4 532.7,291.0 534.3,291.7 536.8,301.7 541.8,306.7 546.8,310.0 550.0,305.0 556.9,302.6 561.9,300.0 562.7,284.0 568.5,283.4 571.9,273.4 575.0,272.6 580.0,278.4 585.0,280.0 588.6,285.0 592.0,287.6 597.0,286.0 600.0,284.0 605.0,288.0 610.0,292.0 613.0,300.0 618.0,296.0 623.0,300.0 628.0,304.0 633.0,300.0 638.0,304.0 643.0,300.0 648.0,296.0 653.0,292.0 656.0,288.0 660.0,288.5 663.5,285.0 668.5,286.8 673.5,280.0 677.0,271.0 679.4,266.0 680.0,268.5 684.0,274.0 688.0,278.0 690.0,273.5 694.0,277.6 697.5,266.8 701.7,256.8 705.9,257.6 708.4,261.8 713.4,256.8 718.4,261.8 723.4,273.5 728.4,275.0 734.0,271.8 737.6,280.0 743.4,276.8 749.3,274.0 753.4,265.0 760.0,260.0 763.5,256.8 766.0,250.0 767.6,253.4 770.0,247.6 780.0,247.6 782.7,251.0 786.8,245.0 792.7,240.0 796.0,246.7 800.0,243.4"/>
<polyline stroke="#ff0000" points="94.5,316.9 98.0,319.0 104.0,324.0 110.0,329.0 116.0,333.0 122.0,330.0 128.0,336.0 134.0,340.0 140.0,336.0 146.0,342.0 152.0,338.0 158.0,345.0 164.0,352.0 170.0,358.0 176.0,362.0 182.0,366.0 186.0,369.0 190.0,366.0 196.0,362.0 202.0,358.0 208.0,362.0 214.0,366.0 220.0,362.0 226.0,358.0 232.0,362.0 238.0,358.0 244.0,354.0 250.0,358.0 256.0,354.0 262.0,350.0 268.0,354.0 274.0,350.0 279.0,338.0 283.0,325.0 287.0,318.0 291.0,330.0 296.0,338.0 302.0,342.0 308.0,346.0 314.0,342.0 320.0,348.0 326.0,352.0 332.0,356.0 338.0,352.0 344.0,358.0 350.0,362.0 356.0,366.0 362.0,362.0 368.0,356.0 374.0,360.0 380.0,356.0 386.0,352.0 392.0,356.0 398.0,360.0 404.0,364.0 410.0,360.0 416.0,356.0 422.0,352.0 428.0,348.0 434.0,352.0 440.0,356.0 446.0,360.0 452.0,364.0 458.0,368.0 464.0,364.0 470.0,360.0 476.0,364.0 482.0,368.0 488.0,364.0 494.0,360.0 500.0,356.0 506.0,352.0 512.0,348.0 516.0,340.0 520.0,344.0 526.0,340.0 532.0,344.0 538.0,340.0 544.0,346.0 550.0,342.0 556.0,348.0 562.0,344.0 568.0,340.0 574.0,344.0 580.0,348.0 586.0,344.0 592.0,340.0 598.0,344.0 604.0,348.0 610.0,344.0 616.0,350.0 622.0,354.0 628.0,350.0 634.0,356.0 640.0,352.0 646.0,358.0 652.0,362.0 658.0,366.0 664.0,372.0 668.0,378.0 672.0,370.0 676.0,362.0 680.0,356.0 686.0,360.0 692.0,356.0 698.0,350.0 704.0,354.0 710.0,350.0 716.0,346.0 722.0,350.0 728.0,354.0 734.0,350.0 740.0,356.0 746.0,360.0 752.0,364.0 758.0,360.0 764.0,366.0 770.0,372.0 776.0,368.0 782.0,362.0 788.0,358.0 794.0,362.0 800.0,358.0"/>
<polyline stroke="#0000ff" points="95.0,313.7 98.0,311.0 104.0,314.0 110.0,310.0 116.0,313.0 122.0,308.0 128.0,311.0 134.0,306.0 140.0,309.0 146.0,301.0 151.8,290.0 156.8,286.8 159.0,285.0 163.5,286.8 168.5,293.5 173.5,291.8 175.0,288.5 178.5,283.5 185.0,280.0 188.5,276.8 190.0,278.5 198.5,277.6 203.5,273.5 206.9,271.8 213.5,266.0 217.0,266.0 222.0,271.8 227.0,273.5 235.0,270.0 250.0,269.0 256.0,271.0 263.0,270.5 270.0,273.0 273.4,278.0 278.4,281.7 282.0,290.0 285.0,300.0 288.0,308.0 291.0,300.0 294.0,293.4 295.8,290.0 300.0,288.4 305.0,284.0 308.4,279.0 311.7,276.0 316.7,281.0 320.9,279.0 323.4,276.0 325.9,274.0 330.0,277.6 335.0,279.0 340.0,275.0 346.8,274.0 352.6,273.4 354.3,265.0 356.0,252.5 360.0,254.0 363.5,260.0 370.0,261.7 378.5,261.4 381.0,264.0 383.5,270.0 386.8,275.0 390.0,279.0 393.5,285.0 396.8,281.7 398.5,280.0 400.0,290.0 405.0,289.0 410.0,290.0 416.9,288.4 423.5,286.7 428.6,284.0 435.0,286.0 440.0,284.0 446.7,287.6 451.7,285.0 455.0,279.0 460.0,283.4 466.7,284.0 469.0,282.6 471.7,287.6 475.9,286.7 480.0,284.0 483.4,285.0 487.6,286.7 491.8,290.0 498.4,289.0 503.4,287.6 510.0,288.4 513.5,281.7 516.8,277.6 520.0,279.0 525.0,275.0 528.5,279.0 533.5,280.0 538.5,277.6 543.5,273.4 545.5,300.0 546.0,260.5 559.0,261.0 561.0,257.8 563.3,261.0 569.3,261.6 571.5,264.3 573.0,262.7 574.2,268.6 575.2,276.2 578.0,274.0 584.5,268.6 587.7,266.5 592.0,263.7 596.4,261.6 600.7,258.9 603.0,261.0 605.0,256.7 607.8,251.3 613.8,247.0 618.0,241.0 624.6,240.4 630.0,238.8 633.3,236.6 636.5,240.0 640.0,236.0 643.5,233.4 646.9,230.0 649.4,234.0 654.4,231.7 658.2,227.6 660.0,235.0 662.7,243.4 665.0,239.3 672.0,233.4 677.0,230.0 679.4,229.0 681.0,235.0 685.0,238.4 690.0,240.0 693.4,236.7 703.4,236.0 707.5,231.7 710.9,236.7 716.7,238.4 720.9,228.4 724.0,225.9 728.4,228.4 734.0,228.4 736.7,233.4 740.0,230.0 747.6,225.0 750.0,219.0 756.8,218.4 761.8,218.4 764.3,223.4 766.5,219.0 768.8,216.7 770.0,230.0 771.8,236.0 777.6,235.0 780.0,243.4 783.5,253.4 790.0,255.0 795.0,251.7 799.3,246.7 800.0,256.8"/>
<polyline stroke="#0000ff" points="95.0,313.7 100.0,315.0 106.0,312.0 112.0,314.0 118.0,310.0 124.0,312.0 130.0,308.0 136.0,310.0 142.0,306.0 148.0,303.0 154.0,300.0 160.0,297.0 166.0,300.0 172.0,303.0 178.0,299.0 184.0,296.0 190.0,293.0 196.0,296.0 202.0,292.0 208.0,289.0 214.0,292.0 220.0,288.0 226.0,291.0 232.0,287.0 238.0,290.0 244.0,286.0 250.0,284.0 256.0,287.0 262.0,284.0 268.0,287.0 273.0,292.0 278.0,300.0 283.0,308.0 288.0,315.0 291.0,306.0 295.0,295.0 300.0,291.7 306.0,283.4 310.0,279.0 315.0,281.7 319.0,280.0 323.4,286.0 326.0,288.4 331.7,284.0 338.4,281.0 345.0,280.0 353.4,280.0 358.5,283.4 363.5,284.0 366.0,279.0 368.5,276.0 370.0,280.0 373.5,279.0 380.0,278.4 383.5,283.4 388.5,286.7 393.5,288.4 398.5,291.0 406.9,289.0 413.5,290.0 421.9,287.6 426.9,285.0 432.0,284.0 437.0,283.4 440.0,290.0 445.0,288.4 450.0,291.7 455.0,286.7 458.4,290.0 465.0,288.4 473.4,290.0 478.4,285.0 483.4,288.4 487.6,285.0 490.0,290.0 496.8,289.0 506.8,287.6 511.8,286.7 515.0,281.7 518.5,280.0 523.5,281.0 526.8,284.0 533.5,281.7 540.0,278.4 545.4,280.6 548.7,282.7 554.0,280.0 558.4,278.4 561.7,276.2 566.0,280.6 568.7,283.3 571.5,281.6 575.8,282.7 581.2,282.2 585.6,280.6 587.7,279.0 591.0,276.8 594.2,275.0 598.6,270.8 601.8,268.6 604.0,275.0 607.2,278.4 611.6,282.7 614.8,285.0 615.9,279.5 619.2,277.8 624.6,277.3 630.0,279.0 634.4,276.8 640.0,275.0 645.0,276.0 648.5,271.8 649.4,273.5 651.0,263.5 655.0,258.4 660.0,252.6 662.7,247.6 663.5,245.0 668.5,238.4 673.5,230.0 678.5,221.0 679.8,219.0 682.8,215.0 687.8,217.0 692.8,216.6 697.8,210.0 702.8,204.0 709.0,199.0 716.6,195.0 720.0,190.8 722.9,195.0 725.0,200.0 726.6,206.6 731.7,211.6 735.0,214.6 738.0,205.0 739.7,185.0 740.9,171.5 744.0,176.5 747.4,180.0 749.0,170.0 750.5,157.7 751.7,147.7 753.5,154.0 756.0,149.0 761.7,152.0 763.5,162.7 766.7,177.0 770.5,170.0 774.0,174.0 779.0,179.0 785.0,171.5 789.0,175.0 794.0,182.8 800.0,177.0"/>
<polyline stroke="#0000ff" points="95.0,313.7 100.0,316.0 106.0,318.0 112.0,315.0 118.0,319.0 124.0,316.0 130.0,320.0 136.0,317.0 142.0,314.0 148.0,317.0 154.0,313.0 160.0,316.0 166.0,312.0 172.0,315.0 178.0,311.0 184.0,314.0 190.0,310.0 196.0,313.0 202.0,309.0 208.0,312.0 214.0,308.0 220.0,311.0 226.0,314.0 232.0,311.0 238.0,314.0 244.0,310.0 250.0,313.0 256.0,310.0 262.0,313.0 268.0,310.0 273.0,316.0 278.0,324.0 283.0,332.0 288.0,338.0 291.0,328.0 295.0,316.0 300.0,308.4 306.7,306.7 315.0,306.0 323.4,302.6 330.0,304.0 335.0,306.0 340.0,308.4 346.8,310.0 353.4,316.7 360.0,318.4 363.5,313.4 366.8,309.0 373.5,307.6 380.0,308.4 383.5,311.0 390.0,313.4 396.8,316.7 400.0,318.4 406.9,313.4 410.0,310.0 413.5,306.7 418.5,305.0 423.5,306.7 428.6,300.0 433.6,301.7 438.6,303.4 440.0,301.7 446.7,300.0 453.4,298.4 458.4,306.7 465.0,310.0 473.4,311.0 480.0,310.0 485.0,306.0 488.4,301.7 491.8,305.0 498.4,300.0 506.8,303.4 511.8,301.7 516.8,296.7 523.5,293.4 528.5,291.7 531.8,298.4 536.8,295.0 540.0,298.4 543.5,303.4 546.8,310.0 548.5,312.6 556.9,315.0 560.0,311.7 566.9,312.6 570.0,313.4 576.7,315.0 583.4,318.4 590.0,311.7 596.7,315.0 603.4,312.6 610.0,316.8 616.7,319.0 623.4,315.0 636.8,315.0 643.5,313.4 650.0,316.8 653.0,310.0 656.8,305.0 663.5,304.0 670.0,301.7 675.0,303.4 678.5,301.7 680.0,306.7 686.9,303.4 690.0,298.5 696.7,293.5 703.4,287.6 711.7,286.8 718.4,286.0 723.4,284.0 733.4,289.0 740.0,285.0 746.8,284.0 750.0,290.0 751.8,295.9 756.8,299.0 760.0,297.5 764.3,305.9 768.5,301.7 775.0,296.7 778.5,295.0 785.0,297.5 791.8,294.0 796.8,287.5 799.3,283.4 800.0,276.8"/>
<polyline stroke="#0000ff" points="95.0,313.7 100.0,317.0 108.0,320.0 116.0,317.0 124.0,321.0 132.0,324.0 140.0,321.0 148.0,325.0 156.0,322.0 164.0,326.0 172.0,322.0 180.0,325.0 188.0,321.0 196.0,324.0 204.0,320.0 212.0,323.0 220.0,326.0 228.0,323.0 236.0,327.0 244.0,324.0 252.0,327.0 260.0,324.0 268.0,327.0 274.0,333.0 280.0,342.0 286.0,350.0 290.0,354.0 294.0,340.0 298.0,330.0 304.0,324.0 310.0,320.0 323.0,320.0 330.0,319.0 337.0,321.0 345.0,320.0 352.0,322.0 357.0,319.0 365.0,320.0 372.0,317.0 380.0,319.0 388.0,316.0 396.0,319.0 404.0,316.0 412.0,313.0 420.0,316.0 428.0,312.0 436.0,315.0 444.0,311.0 452.0,314.0 460.0,317.0 468.0,313.0 476.0,316.0 484.0,312.0 492.0,315.0 500.0,311.0 508.0,314.0 516.0,310.0 524.0,307.0 530.0,310.0 536.8,303.4 543.0,300.0 546.8,306.7 553.5,308.4 560.0,306.7 566.9,305.0 573.5,301.7 580.0,300.0 587.0,298.4 591.7,298.4 600.0,296.0 603.4,303.4 613.4,301.7 625.0,303.4 633.4,303.4 641.8,308.4 646.8,311.7 653.5,313.4 658.5,315.0 663.5,320.0 670.0,323.4 676.8,321.0 683.0,323.0 690.0,323.4 700.0,327.6 706.7,330.0 713.4,331.7 720.0,334.0 726.7,330.0 733.4,328.4 736.7,325.0 743.0,323.0 750.0,326.0 757.0,322.0 765.0,325.0 773.5,322.6 780.0,326.7 786.8,329.0 793.5,331.7 798.0,327.0 801.0,322.0"/>
<polyline stroke="#0000ff" points="95.0,313.7 100.0,318.0 108.0,322.0 116.0,325.0 124.0,322.0 132.0,326.0 140.0,329.0 148.0,326.0 156.0,330.0 164.0,327.0 172.0,330.0 180.0,327.0 188.0,331.0 196.0,328.0 204.0,331.0 212.0,328.0 220.0,332.0 228.0,329.0 236.0,332.0 244.0,329.0 252.0,333.0 260.0,330.0 268.0,333.0 274.0,338.0 280.0,346.0 286.0,354.0 289.0,358.0 293.0,345.0 297.0,337.0 298.0,330.0 304.0,324.0 310.0,320.0 323.0,320.0 330.0,319.0 337.0,321.0 345.0,320.0 352.0,322.0 357.0,319.0 365.0,320.0 372.0,317.0 380.0,319.0 388.0,316.0 396.0,319.0 404.0,316.0 412.0,313.0 420.0,316.0 428.0,312.0 436.0,315.0 444.0,311.0 452.0,314.0 460.0,317.0 468.0,313.0 476.0,316.0 484.0,312.0 492.0,315.0 500.0,311.0 508.0,314.0 516.0,310.0 524.0,307.0 530.0,310.0 536.8,303.4 543.0,300.0 546.8,306.7 553.5,308.4 560.0,306.7 566.9,305.0 573.5,301.7 580.0,300.0 587.0,298.4 591.7,298.4 600.0,296.0 603.4,303.4 613.4,301.7 625.0,303.4 633.4,303.4 641.8,308.4 646.8,311.7 653.5,313.4 658.5,315.0 663.5,320.0 670.0,323.4 676.8,321.0 683.0,323.0 690.0,323.4 700.0,327.6 706.7,330.0 713.4,331.7 720.0,334.0 726.7,330.0 733.4,328.4 736.7,325.0 743.0,323.0 750.0,326.0 757.0,322.0 765.0,325.0 773.5,322.6 780.0,326.7 786.8,329.0 793.5,331.7 798.0,327.0 801.0,322.0"/>
</g>
<g fill="none" stroke-width="3" shape-rendering="crispEdges" stroke-linejoin="round">
<polyline stroke="#333399" points="94.5,314.2 95.0,314.5 105.0,317.0 115.0,318.4 123.0,317.6 140.0,316.0 148.4,314.0 156.8,316.0 165.0,316.7 173.5,315.0 180.0,316.7 190.0,317.6 198.5,316.7 207.0,316.0 215.0,314.0 223.5,316.0 232.0,318.4 240.0,316.7 250.0,315.0 273.4,315.0 278.0,319.0 283.0,325.0 289.0,333.0 294.0,326.0 300.0,327.0 330.0,327.6 365.0,327.6 390.0,328.0 410.0,327.5 426.0,330.5 443.0,332.5 452.0,334.0 468.0,332.5 485.0,330.0 500.0,329.0 516.8,327.6 543.6,328.5 570.0,328.0 586.7,327.5 603.4,329.0 616.7,328.4 628.4,326.0 646.8,326.0 660.0,322.5 670.0,320.0 680.0,318.4 690.0,317.0 696.7,316.0 703.4,314.0 710.0,312.6 716.7,311.0 724.0,311.0 726.7,314.0 733.4,316.0 740.0,316.7 746.8,317.6 756.8,318.4 765.0,318.4 773.5,320.0 780.0,321.0 786.8,321.7 793.5,321.0 801.0,319.7"/>
<polyline stroke="#ff0000" points="94.5,315.1 95.0,316.0 100.0,320.0 106.7,322.6 115.0,323.4 123.4,322.6 131.7,323.4 140.0,323.4 148.4,324.0 152.6,326.0 156.0,331.8 158.4,338.4 161.0,343.5 166.8,343.5 171.0,341.8 173.5,336.8 176.8,338.4 183.5,338.4 187.7,341.8 192.7,346.8 196.8,346.0 203.5,343.5 210.0,341.8 216.9,342.6 223.5,341.8 230.0,345.0 235.0,348.5 242.0,348.5 250.0,347.6 258.0,347.6 262.5,346.0 268.4,347.6 275.0,348.5 279.0,343.5 281.0,331.8 283.4,325.0 287.6,326.0 291.7,331.8 296.0,334.0 300.0,332.6 305.0,334.0 310.0,338.4 316.8,339.0 321.8,343.5 326.8,346.8 333.5,348.5 340.0,350.0 346.8,351.8 353.5,354.0 360.0,356.8 363.5,355.0 368.5,347.6 375.0,346.8 382.0,347.6 388.6,348.5 395.0,349.0 400.0,352.6 410.0,351.7 420.0,351.7 430.0,351.0 438.4,350.0 446.7,351.7 453.4,351.0 460.0,353.4 468.4,354.0 476.8,355.0 485.0,353.4 493.5,352.6 503.5,351.7 510.0,351.0 514.4,350.0 518.5,346.7 526.9,346.7 533.5,345.0 543.6,345.0 552.0,344.0 560.0,343.4 564.4,341.0 570.0,340.5 578.4,339.0 586.7,340.0 595.0,339.0 603.4,341.0 611.7,340.0 620.0,340.0 628.4,339.0 636.8,342.6 645.0,344.0 653.5,343.4 660.0,344.0 666.8,345.0 673.5,343.4 680.0,337.6 686.9,340.0 693.5,341.0 698.4,340.0 706.7,339.0 711.7,337.6 718.4,338.4 724.0,336.8 728.4,339.0 735.0,340.0 740.0,342.6 746.8,342.6 751.0,345.0 756.8,344.0 763.5,342.6 770.0,343.4 776.8,343.4 783.5,341.8 790.0,340.0 795.0,341.8 801.0,341.4"/>
<polyline stroke="#0000ff" points="94.5,313.9 100.0,314.0 115.0,314.0 130.0,312.5 140.0,311.0 151.8,309.0 156.8,306.0 165.0,306.5 173.0,306.0 183.5,308.4 190.0,306.0 198.5,304.0 206.9,303.4 215.0,303.4 220.0,306.0 227.0,307.6 232.0,308.4 237.0,304.0 243.6,302.6 250.0,301.0 258.0,300.0 266.7,298.4 273.4,299.0 278.4,303.4 283.4,310.0 288.4,317.6 291.0,311.7 294.0,302.6 296.0,310.0 300.0,307.6 306.8,301.0 316.8,300.0 326.8,299.7 340.0,299.0 350.0,297.5 354.4,296.0 356.8,291.0 361.8,290.0 365.0,286.0 368.5,281.7 373.5,283.4 380.0,285.0 385.0,288.4 392.0,291.7 397.0,294.0 403.6,296.7 410.0,294.5 426.7,294.0 438.4,296.0 443.4,298.4 451.7,296.7 460.0,297.0 468.4,298.4 472.6,300.0 480.0,298.4 488.5,296.7 500.0,295.0 510.0,294.0 516.8,292.6 523.5,290.0 530.0,289.0 536.9,291.0 543.6,287.6 548.6,290.0 555.0,291.0 562.0,289.0 570.0,291.0 575.0,293.4 583.4,291.8 591.7,287.6 600.0,285.0 608.4,286.8 616.7,284.0 626.8,284.0 636.8,283.4 643.5,284.0 647.6,281.0 650.0,283.4 656.8,277.6 663.5,279.0 670.0,274.0 676.8,270.0 680.0,269.0 685.0,271.7 690.0,269.5 696.7,266.0 703.4,262.6 710.0,263.4 718.4,263.4 726.0,261.8 730.0,264.0 736.7,264.0 739.0,255.0 746.8,253.4 751.8,246.7 756.8,248.4 762.6,248.4 765.0,255.0 773.5,257.6 780.0,260.0 786.8,262.6 793.5,264.0 798.5,261.0 801.0,257.6"/>
<polyline stroke="#00ff00" points="94.5,315.1 98.0,316.0 106.7,317.6 115.0,317.6 123.4,315.0 131.7,313.7 140.0,311.7 148.4,311.7 156.8,310.0 165.0,309.0 171.8,307.6 180.0,310.0 190.0,310.0 198.5,309.0 206.9,309.0 215.0,307.6 221.0,308.5 228.6,310.0 235.0,311.0 243.6,307.6 250.0,305.4 265.0,305.4 271.7,304.0 276.7,306.0 281.7,311.7 286.0,318.4 289.0,323.4 291.7,320.0 295.0,321.8 300.0,324.0 308.4,326.8 316.8,328.4 325.0,328.8 330.0,326.8 336.8,323.4 343.5,322.6 350.0,321.8 356.8,323.4 363.5,324.0 370.0,323.4 376.9,324.0 383.6,326.8 388.6,328.4 395.0,327.6 402.0,328.4 410.0,327.0 418.4,328.5 426.7,330.0 435.0,331.8 443.4,334.0 451.7,336.0 460.0,333.5 468.4,332.6 476.8,331.8 485.0,330.0 493.5,329.0 501.8,329.0 510.0,330.0 518.5,331.0 526.9,331.8 535.0,332.6 543.6,334.0 552.0,335.0 560.0,336.0 570.0,336.0 580.0,337.6 590.0,338.4 600.0,337.6 608.4,340.0 616.7,339.0 621.8,336.0 628.4,332.6 636.8,331.0 643.5,332.6 650.0,332.6 656.8,329.0 663.5,327.5 670.0,326.0 680.0,323.4 690.0,321.5 698.4,320.0 706.7,317.6 713.4,316.0 723.4,316.0 726.0,320.0 731.7,323.4 738.4,324.0 741.8,328.4 748.4,330.0 753.4,332.6 760.0,331.0 766.8,330.0 773.5,332.6 780.0,335.0 786.8,336.8 793.5,334.0 801.0,333.4"/>
<polyline stroke="#993300" points="94.5,313.7 95.0,313.7 105.0,314.7 111.7,313.7 115.0,311.7 117.5,315.0 123.4,313.0 130.0,311.4 135.0,309.0 141.8,308.7 146.8,304.7 151.0,308.0 154.0,311.0 157.6,310.0 160.0,301.7 161.8,296.7 163.5,301.7 170.0,303.4 175.0,303.4 180.0,306.4 185.0,305.0 188.5,308.4 192.0,311.0 196.8,301.7 201.0,292.5 204.4,299.0 210.0,300.0 250.0,300.0 262.5,300.0 265.0,297.5 268.4,301.7 273.4,310.0 278.4,325.0 283.4,343.5 286.7,353.5 288.7,357.6 290.9,348.5 292.6,343.5 293.7,358.5 296.0,361.0 300.0,361.0 303.4,360.0 306.8,357.6 310.0,361.0 316.8,362.6 321.8,365.0 326.8,366.8 340.0,366.8 350.0,367.6 366.9,367.3 375.0,366.0 382.0,365.0 388.6,366.8 393.6,365.0 397.0,358.5 400.0,354.0 410.0,355.0 423.4,356.0 426.7,353.4 430.0,355.0 435.0,351.0 440.0,350.0 445.0,351.7 450.0,351.0 456.0,353.4 460.0,350.0 468.4,348.4 473.4,344.0 485.0,343.4 488.5,346.0 495.0,346.0 500.0,350.0 510.0,350.0 513.5,345.0 516.0,337.5 542.0,336.7 545.0,330.0 547.7,327.5 570.0,326.5 595.0,326.0 620.0,326.0 636.8,324.0 653.5,323.4 663.5,325.0 678.5,325.0 681.8,329.0 686.9,336.7 690.0,339.0 693.4,337.6 696.7,340.0 701.7,337.6 706.7,333.4 710.0,330.0 715.0,329.0 716.7,327.6 720.0,331.8 725.0,327.6 731.7,325.0 736.7,321.7 740.0,320.0 743.4,321.7 751.8,321.0 756.8,323.4 763.5,323.4 768.5,324.0 773.5,321.0 778.5,318.4 781.0,311.7 783.5,306.7 786.8,304.0 790.0,306.7 793.5,307.5 796.8,303.4 799.3,297.5 801.5,300.0"/>
<polyline stroke="#cc99ff" points="94.5,315.5 95.0,316.7 101.7,321.0 108.4,326.0 115.0,326.8 120.0,326.0 126.7,324.0 133.4,323.0 140.0,321.8 146.8,319.0 150.0,320.0 155.0,322.6 160.0,320.0 166.8,318.4 173.5,315.0 180.0,312.6 186.8,310.0 190.0,312.6 196.8,314.0 203.5,315.0 210.0,314.0 215.0,310.0 220.0,306.0 225.0,307.6 232.0,310.0 237.0,306.7 243.6,303.4 247.8,300.0 250.0,301.0 263.0,301.0 266.7,302.6 271.7,308.4 276.7,316.7 281.7,331.8 286.0,341.8 288.7,347.6 291.0,340.0 293.7,326.8 296.0,331.0 298.4,329.0 303.4,328.4 308.4,327.6 313.4,325.0 318.4,322.6 323.5,319.0 328.5,315.0 333.5,312.6 340.0,311.7 346.8,310.0 353.5,306.0 358.5,303.4 363.5,301.7 370.0,300.0 376.9,301.0 383.6,301.7 390.0,298.4 397.0,295.0 402.0,292.5 410.0,293.0 420.0,295.0 430.0,296.4 440.0,295.0 446.7,298.4 453.4,296.0 458.4,291.0 466.8,290.0 476.8,291.4 486.8,291.0 500.0,291.0 510.0,290.0 514.4,286.0 516.8,281.7 523.5,283.4 528.5,285.0 533.5,282.6 540.0,281.0 547.0,275.0 553.6,272.5 560.0,272.5 562.0,275.0 567.0,270.0 570.0,270.0 580.0,270.0 588.4,271.7 595.0,272.6 603.4,270.0 611.7,266.7 620.0,266.7 626.8,264.0 633.4,266.0 640.0,264.0 646.8,261.7 651.8,260.0 656.8,266.0 661.0,271.7 665.0,273.4 670.0,266.7 675.0,262.6 680.0,264.0 685.0,270.0 689.4,272.6 693.5,269.0 696.7,268.4 703.4,262.6 710.0,258.4 716.7,252.6 720.9,261.0 725.9,256.0 731.7,256.0 736.7,256.8 740.0,263.4 746.8,266.8 753.4,263.4 760.0,265.0 765.0,271.8 771.8,266.8 778.5,264.0 785.0,259.0 791.8,262.6 796.8,264.0 801.0,261.8"/>
</g>
<g shape-rendering="crispEdges"><rect x="826.5" y="5.5" width="134" height="168" fill="#fff" stroke="#000" stroke-width="1"/>
<rect x="844" y="18.0" width="30" height="3" fill="#333399"/>
<rect x="844" y="46.0" width="30" height="3" fill="#ff0000"/>
<rect x="844" y="73.0" width="30" height="3" fill="#0000ff"/>
<rect x="844" y="101.0" width="30" height="3" fill="#00ff00"/>
<rect x="844" y="129.0" width="30" height="3" fill="#993300"/>
<rect x="844" y="156.0" width="30" height="3" fill="#cc99ff"/>
</g>
<g font-size="14.5px">
<text x="874.5" y="24.5" textLength="27" lengthAdjust="spacingAndGlyphs">平均</text>
<text x="874.5" y="52.5" textLength="48.5" lengthAdjust="spacingAndGlyphs">順張り系</text>
<text x="874.5" y="79.5" textLength="48.5" lengthAdjust="spacingAndGlyphs">逆張り系</text>
<text x="874.5" y="107.5" textLength="70.5" lengthAdjust="spacingAndGlyphs">オシレータ系</text>
<text x="874.5" y="135.5" textLength="38.5" lengthAdjust="spacingAndGlyphs">その他</text>
<text x="874.5" y="162.5" textLength="32.5" lengthAdjust="spacingAndGlyphs">s平均</text>
</g>
<text x="371.5" y="33.6" font-size="14.5px" textLength="227" lengthAdjust="spacingAndGlyphs">2025年システム成績[追加システム]</text>
<g font-size="14px">
<text x="39.7" y="78" textLength="40.5" lengthAdjust="spacingAndGlyphs">+100%</text>
<text x="47.7" y="126" textLength="32.5" lengthAdjust="spacingAndGlyphs">+80%</text>
<text x="47.7" y="175" textLength="32.5" lengthAdjust="spacingAndGlyphs">+60%</text>
<text x="47.7" y="223" textLength="32.5" lengthAdjust="spacingAndGlyphs">+40%</text>
<text x="47.7" y="271" textLength="32.5" lengthAdjust="spacingAndGlyphs">+20%</text>
<text x="55.7" y="320" textLength="24.5" lengthAdjust="spacingAndGlyphs">+0%</text>
<text x="47.7" y="368" textLength="32.5" lengthAdjust="spacingAndGlyphs" fill="#ff0000">−20%</text>
<text x="47.7" y="416" textLength="32.5" lengthAdjust="spacingAndGlyphs" fill="#ff0000">−40%</text>
<text x="47.7" y="465" textLength="32.5" lengthAdjust="spacingAndGlyphs" fill="#ff0000">−60%</text>
<text x="47.7" y="513" textLength="32.5" lengthAdjust="spacingAndGlyphs" fill="#ff0000">−80%</text>
</g>
<g font-size="14px">
<text transform="translate(98.5,543.4) rotate(-90)" x="0.03 9.83 15.73">1/5</text>
<text transform="translate(128.5,551.3) rotate(-90)" x="0.03 9.83 15.73 23.58">1/19</text>
<text transform="translate(157.5,543.4) rotate(-90)" x="0.03 9.83 15.73">2/2</text>
<text transform="translate(187.5,551.3) rotate(-90)" x="0.03 9.83 15.73 23.58">2/16</text>
<text transform="translate(216.5,543.4) rotate(-90)" x="0.03 9.83 15.73">3/2</text>
<text transform="translate(246.5,551.3) rotate(-90)" x="0.03 9.83 15.73 23.58">3/16</text>
<text transform="translate(276.5,551.3) rotate(-90)" x="0.03 9.83 15.73 23.58">3/30</text>
<text transform="translate(305.5,551.3) rotate(-90)" x="0.03 9.83 15.73 23.58">4/13</text>
<text transform="translate(335.5,551.3) rotate(-90)" x="0.03 9.83 15.73 23.58">4/27</text>
<text transform="translate(365.5,551.3) rotate(-90)" x="0.03 9.83 15.73 23.58">5/11</text>
<text transform="translate(394.5,551.3) rotate(-90)" x="0.03 9.83 15.73 23.58">5/25</text>
<text transform="translate(424.5,543.4) rotate(-90)" x="0.03 9.83 15.73">6/8</text>
<text transform="translate(453.5,551.3) rotate(-90)" x="0.03 9.83 15.73 23.58">6/22</text>
<text transform="translate(483.5,543.4) rotate(-90)" x="0.03 9.83 15.73">7/6</text>
<text transform="translate(513.5,551.3) rotate(-90)" x="0.03 9.83 15.73 23.58">7/20</text>
<text transform="translate(542.5,543.4) rotate(-90)" x="0.03 9.83 15.73">8/3</text>
<text transform="translate(572.5,551.3) rotate(-90)" x="0.03 9.83 15.73 23.58">8/17</text>
<text transform="translate(602.5,551.3) rotate(-90)" x="0.03 9.83 15.73 23.58">8/31</text>
<text transform="translate(631.5,551.3) rotate(-90)" x="0.03 9.83 15.73 23.58">9/14</text>
<text transform="translate(661.5,551.3) rotate(-90)" x="0.03 9.83 15.73 23.58">9/28</text>
<text transform="translate(690.5,559.1) rotate(-90)" x="0.03 7.88 17.68 23.58 31.43">10/12</text>
<text transform="translate(720.5,559.1) rotate(-90)" x="0.03 7.88 17.68 23.58 31.43">10/26</text>
<text transform="translate(750.5,551.3) rotate(-90)" x="0.03 7.88 17.68 23.58">11/9</text>
<text transform="translate(779.5,559.1) rotate(-90)" x="0.03 7.88 17.68 23.58 31.43">11/23</text>
<text transform="translate(809.5,551.3) rotate(-90)" x="0.03 7.88 17.68 23.58">12/7</text>
</g>
<text x="436.3" y="589.5" font-size="14.5px" textLength="29" lengthAdjust="spacingAndGlyphs">日付</text>
<text transform="translate(21,314.6) rotate(-90)" font-size="14.5px" textLength="44.5" lengthAdjust="spacingAndGlyphs">増減率</text>
</svg></body></html>
